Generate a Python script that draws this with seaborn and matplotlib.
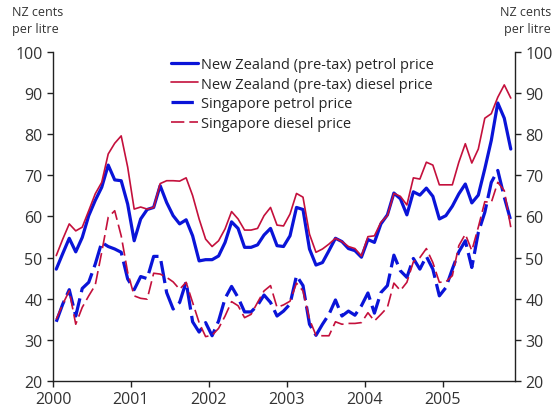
import seaborn as sns
import matplotlib.pyplot as plt
import pandas as pd

# Monthly prices, Jan 2000 - Nov 2005 (NZ cents per litre)
nz_petrol = [47.2, 51.0, 54.7, 51.4, 54.9, 60.2, 63.9, 67.1, 72.5, 68.9, 68.7, 63.0,
             54.1, 59.4, 61.7, 62.2, 67.5, 63.4, 60.2, 58.2, 59.2, 55.3, 49.2, 49.5,
             49.5, 50.4, 53.7, 58.7, 57.1, 52.5, 52.5, 53.1, 55.5, 57.1, 52.9, 52.7,
             55.3, 62.2, 61.7, 52.1, 48.2, 48.8, 51.7, 54.7, 53.9, 52.2, 51.7, 50.1,
             54.4, 53.7, 58.2, 60.4, 65.7, 64.3, 60.4, 66.0, 65.2, 66.9, 64.9, 59.4,
             60.2, 62.5, 65.5, 67.9, 63.3, 65.2, 71.6, 78.5, 87.6, 83.9, 76.4]
nz_diesel = [50.5, 54.5, 58.2, 56.5, 57.4, 61.4, 65.5, 68.3, 75.2, 77.8, 79.6, 72.0,
             61.8, 62.3, 61.8, 62.2, 68.0, 68.7, 68.7, 68.6, 69.4, 65.1, 59.4, 54.5,
             52.7, 54.1, 57.0, 61.2, 59.4, 56.7, 56.7, 57.1, 60.2, 62.2, 57.9, 57.7,
             60.6, 65.6, 64.7, 55.7, 51.3, 52.1, 53.3, 54.7, 53.9, 52.7, 52.2, 50.4,
             55.1, 55.3, 58.6, 60.2, 65.6, 64.9, 62.8, 69.4, 69.1, 73.2, 72.5, 67.7,
             67.7, 67.7, 73.2, 77.7, 73.0, 76.4, 83.9, 85.0, 89.0, 92.0, 88.8]
sg_petrol = [34.4, 38.7, 42.2, 35.8, 42.5, 44.0, 48.4, 53.7, 52.7, 52.1, 51.3, 44.8,
             42.2, 45.4, 44.9, 50.3, 50.3, 41.5, 37.5, 39.1, 44.1, 34.4, 31.9, 34.2,
             31.0, 34.6, 40.1, 43.0, 40.3, 36.8, 36.8, 38.4, 40.9, 39.1, 35.8, 37.0,
             38.7, 45.6, 43.2, 33.8, 31.1, 33.8, 36.2, 39.7, 35.8, 37.0, 36.0, 38.3,
             41.4, 36.5, 41.5, 43.2, 50.6, 46.8, 45.2, 49.8, 47.2, 50.3, 47.2, 40.7,
             42.7, 47.2, 51.4, 54.1, 47.6, 56.1, 61.0, 68.3, 71.2, 64.7, 59.0]
sg_diesel = [35.0, 38.7, 41.9, 33.8, 37.9, 40.7, 43.3, 51.3, 59.8, 61.4, 55.3, 46.4,
             40.7, 40.1, 39.9, 46.2, 46.0, 45.2, 44.1, 42.3, 44.0, 39.1, 34.2, 30.8,
             31.1, 32.8, 35.8, 39.3, 38.3, 35.4, 36.2, 39.1, 41.9, 43.2, 37.9, 38.5,
             39.4, 43.8, 41.9, 35.0, 31.1, 31.0, 31.0, 34.4, 33.8, 34.0, 34.0, 34.2,
             36.6, 34.6, 36.2, 37.9, 43.8, 42.0, 44.0, 49.0, 50.0, 52.2, 48.8, 44.0,
             44.1, 45.6, 52.9, 55.7, 51.7, 57.4, 63.6, 63.4, 68.3, 66.3, 57.4]

series_names = ["New Zealand (pre-tax) petrol price",
                "New Zealand (pre-tax) diesel price",
                "Singapore petrol price",
                "Singapore diesel price"]
years = [2000, 2001, 2002, 2003, 2004, 2005]
y_ticks = [20, 30, 40, 50, 60, 70, 80, 90, 100]

BLUE = "#0a14d8"
RED = "#c4103c"

# long format table for seaborn
months = [2000 + (i + 0.5) / 12 for i in range(len(nz_petrol))]
frames = []
for name, vals in zip(series_names, [nz_petrol, nz_diesel, sg_petrol, sg_diesel]):
    frames.append(pd.DataFrame({"date": months, "price": vals, "series": name}))
df = pd.concat(frames, ignore_index=True)

sns.set_style("ticks")
plt.rcParams['font.family'] = ['Open Sans', 'DejaVu Sans']

fig = plt.figure(figsize=(5.54, 4.14), dpi=100)
ax = fig.add_axes([0.0957, 0.0773, 0.834, 0.7947])

sns.lineplot(data=df, x="date", y="price",
             hue="series", size="series", style="series",
             hue_order=series_names, size_order=series_names, style_order=series_names,
             palette={series_names[0]: BLUE, series_names[1]: RED,
                      series_names[2]: BLUE, series_names[3]: RED},
             sizes={series_names[0]: 2.3, series_names[1]: 1.2,
                    series_names[2]: 2.3, series_names[3]: 1.2},
             dashes={series_names[0]: "", series_names[1]: "",
                     series_names[2]: (7, 2), series_names[3]: (8, 3)},
             ax=ax)

handles, labels = ax.get_legend_handles_labels()
ax.legend(handles, labels, loc="upper left", bbox_to_anchor=(0.255, 0.985),
          frameon=False, fontsize=10.5, handlelength=1.85, handletextpad=0.25,
          labelspacing=0.32, borderpad=0, borderaxespad=0)

ax.set_xlim(2000, 2005.93)
ax.set_ylim(20, 100)
ax.set_xticks(years)
ax.set_xticklabels([str(y) for y in years])
ax.set_yticks(y_ticks)
ax.set_xlabel("")
ax.set_ylabel("")

ax.spines["top"].set_visible(False)
ax.spines["right"].set_visible(True)
for s in ["left", "right", "bottom"]:
    ax.spines[s].set_color("#222222")
    ax.spines[s].set_linewidth(1.0)
ax.tick_params(axis="both", direction="out", length=4, width=1.0,
               colors="#222222", labelcolor="#333333", labelsize=11.5)
ax.tick_params(axis="y", right=True, labelright=True)

fig.text(12 / 554, 1 - 6 / 414, "NZ cents\nper litre", ha="left", va="top",
         fontsize=9, color="#333333", linespacing=1.35)
fig.text(551 / 554, 1 - 6 / 414, "NZ cents\nper litre", ha="right", va="top",
         fontsize=9, color="#333333", linespacing=1.35, multialignment="right")

fig.savefig("out.png", dpi=100)
